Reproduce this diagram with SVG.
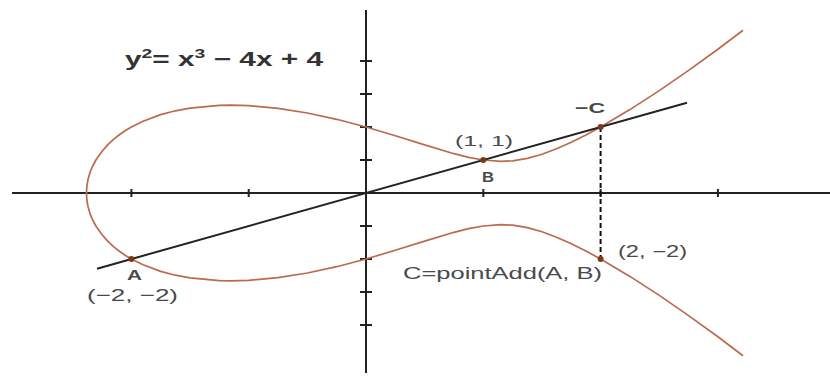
<svg xmlns="http://www.w3.org/2000/svg" width="830" height="376" viewBox="0 0 830 376">
  <style>
    .axis { stroke: #222; stroke-width: 2; fill: none; }
    .tick { stroke: #222; stroke-width: 2; }
    .curve { stroke: #bb6a4c; stroke-width: 1.7; fill: none; stroke-linejoin: round; }
    .line { stroke: #222; stroke-width: 2; fill: none; }
    .dash { stroke: #111; stroke-width: 2; stroke-dasharray: 5 3; fill: none; }
    .dot { fill: #7a3a1a; }
    .lbl { font-family: "Liberation Sans", Arial, sans-serif; fill: #4a4a4a; }
    .bold { font-weight: bold; }
    .eq { font-family: "Liberation Sans", Arial, sans-serif; fill: #333; font-weight: bold; }
  </style>
  <rect width="830" height="376" fill="#fff"/>

  <g id="axes">
    <line class="axis" x1="12" y1="193" x2="830" y2="193"/>
    <line class="axis" x1="366" y1="10" x2="366" y2="373"/>
    <g class="tick">
      <line x1="131.4" y1="189" x2="131.4" y2="197"/>
      <line x1="248.7" y1="189" x2="248.7" y2="197"/>
      <line x1="483.3" y1="189" x2="483.3" y2="197"/>
      <line x1="600.6" y1="189" x2="600.6" y2="197"/>
      <line x1="717.9" y1="189" x2="717.9" y2="197"/>
      <line x1="360" y1="61" x2="372" y2="61"/>
      <line x1="360" y1="94" x2="372" y2="94"/>
      <line x1="360" y1="127" x2="372" y2="127"/>
      <line x1="360" y1="160" x2="372" y2="160"/>
      <line x1="360" y1="226" x2="372" y2="226"/>
      <line x1="360" y1="259" x2="372" y2="259"/>
      <line x1="360" y1="292" x2="372" y2="292"/>
      <line x1="360" y1="325" x2="372" y2="325"/>
    </g>
  </g>

  <g id="curve">
    <polyline class="curve" points="743.0,30.2 717.9,49.2 688.6,70.4 659.3,90.6 629.9,109.6 600.6,127.0 585.9,135.0 571.3,142.3 556.6,148.8 542.0,154.3 527.3,158.4 512.6,160.8 500.9,161.3 483.3,160.0 468.6,157.3 454.0,153.7 424.7,144.9 395.3,135.7 366.0,127.0 336.7,119.3 307.4,113.0 278.0,108.4 248.7,105.7 230.5,105.2 219.4,105.4 190.1,108.1 175.4,110.8 160.7,114.6 143.1,121.2 131.4,127.0 125.5,130.5 119.7,134.5 113.8,139.1 107.9,144.6 102.1,151.2 96.2,159.5 92.7,166.0 90.3,171.6 88.0,179.5 86.8,186.5 86.5,193.0 86.8,199.5 88.0,206.5 90.3,214.4 92.7,220.0 96.2,226.5 102.1,234.8 107.9,241.4 113.8,246.9 119.7,251.5 125.5,255.5 131.4,259.0 143.1,264.8 160.7,271.4 175.4,275.2 190.1,277.9 219.4,280.6 230.5,280.8 248.7,280.3 278.0,277.6 307.4,273.0 336.7,266.7 366.0,259.0 395.3,250.3 424.7,241.1 454.0,232.3 468.6,228.7 483.3,226.0 500.9,224.7 512.6,225.2 527.3,227.6 542.0,231.7 556.6,237.2 571.3,243.7 585.9,251.0 600.6,259.0 629.9,276.4 659.3,295.4 688.6,315.6 717.9,336.8 743.0,355.8"/>
  </g>

  <g id="connectors">
    <line class="line" x1="97" y1="268.7" x2="687" y2="102.7"/>
    <line class="dash" x1="600.6" y1="127" x2="600.6" y2="259"/>
  </g>

  <g id="equation">
    <text class="eq" x="125" y="66" font-size="20" textLength="198" lengthAdjust="spacingAndGlyphs">y<tspan font-size="13" dy="-8">2</tspan><tspan dy="8">= x</tspan><tspan font-size="13" dy="-8">3</tspan><tspan dy="8"> − 4x + 4</tspan></text>
  </g>

  <g id="pointA">
    <circle class="dot" cx="131.4" cy="259" r="3"/>
    <text class="lbl bold" x="127" y="280" font-size="14" textLength="15" lengthAdjust="spacingAndGlyphs">A</text>
    <text class="lbl" x="87" y="301" font-size="17" textLength="91" lengthAdjust="spacingAndGlyphs">(−2, −2)</text>
  </g>

  <g id="pointB">
    <circle class="dot" cx="483.3" cy="160" r="3"/>
    <text class="lbl" x="455" y="146" font-size="15" textLength="58" lengthAdjust="spacingAndGlyphs">(1, 1)</text>
    <text class="lbl bold" x="482" y="182" font-size="14" textLength="12" lengthAdjust="spacingAndGlyphs">B</text>
  </g>

  <g id="pointNegC">
    <circle class="dot" cx="600.6" cy="127" r="3"/>
    <text class="lbl bold" x="575" y="113" font-size="15" textLength="30" lengthAdjust="spacingAndGlyphs">−C</text>
  </g>

  <g id="pointC">
    <circle class="dot" cx="600.6" cy="259" r="3"/>
    <text class="lbl" x="618" y="257" font-size="16" textLength="69" lengthAdjust="spacingAndGlyphs">(2, −2)</text>
    <text class="lbl" x="403" y="279" font-size="16" textLength="199" lengthAdjust="spacingAndGlyphs">C=pointAdd(A, B)</text>
  </g>
</svg>
